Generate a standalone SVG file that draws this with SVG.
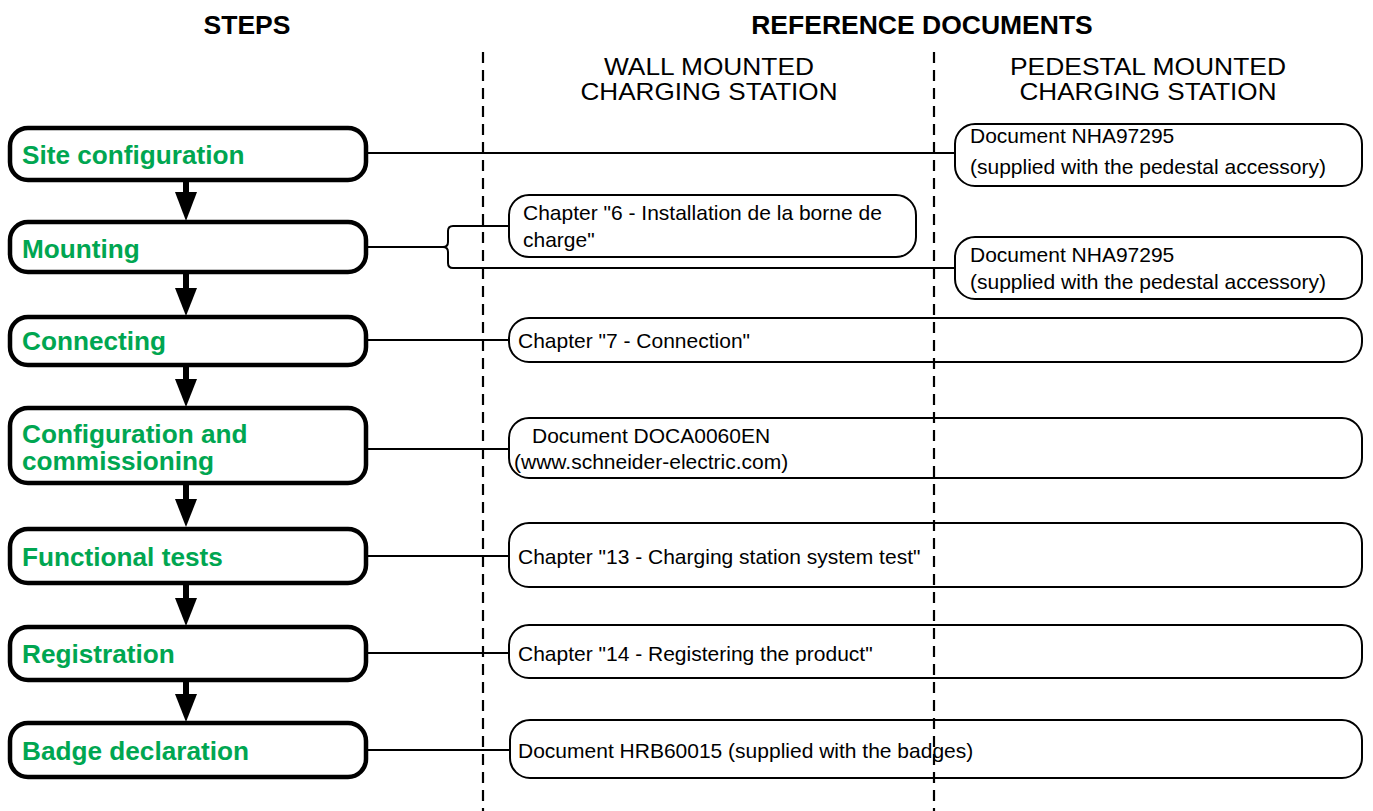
<svg xmlns="http://www.w3.org/2000/svg" width="1373" height="811" viewBox="0 0 1373 811">
<defs>
<style>
.bg{fill:#fff}
.step rect{fill:#fff;stroke:#000;stroke-width:4.5}
.step text{font-family:"Liberation Sans",Arial,sans-serif;font-weight:bold;font-size:26.2px;fill:#00a651}
.doc rect{fill:none;stroke:#000;stroke-width:2}
.doc text{font-family:"Liberation Sans",Arial,sans-serif;font-size:21px;fill:#000}
.hdr{font-family:"Liberation Sans",Arial,sans-serif;font-weight:bold;font-size:26.5px;fill:#000;text-anchor:middle}
.col{font-family:"Liberation Sans",Arial,sans-serif;font-size:24px;fill:#000;text-anchor:middle}
.dash{stroke:#000;stroke-width:2.2;stroke-dasharray:11,7;fill:none}
.ln{stroke:#000;stroke-width:2;fill:none}
.flow{fill:#000}
</style>
</defs>
<rect class="bg" x="0" y="0" width="1373" height="811"/>

<g id="headers">
<text class="hdr" x="247" y="34">STEPS</text>
<text class="hdr" x="922" y="34">REFERENCE DOCUMENTS</text>
<text class="col" x="709" y="75" textLength="210" lengthAdjust="spacingAndGlyphs">WALL MOUNTED</text>
<text class="col" x="709" y="100" textLength="257" lengthAdjust="spacingAndGlyphs">CHARGING STATION</text>
<text class="col" x="1148" y="75" textLength="276" lengthAdjust="spacingAndGlyphs">PEDESTAL MOUNTED</text>
<text class="col" x="1148" y="100" textLength="257" lengthAdjust="spacingAndGlyphs">CHARGING STATION</text>
</g>

<g id="columns">
<line class="dash" x1="483" y1="52" x2="483" y2="811"/>
<line class="dash" x1="934" y1="52" x2="934" y2="811"/>
</g>

<g id="connectors">
<line class="ln" x1="367" y1="153" x2="955" y2="153"/>
<line class="ln" x1="367" y1="247" x2="443" y2="247"/>
<path class="ln" d="M509,226 H453 Q448,226 448,231 V242 Q448,247 443,247 Q448,247 448,252 V263 Q448,268 453,268 H955"/>
<line class="ln" x1="367" y1="340" x2="509" y2="340"/>
<line class="ln" x1="367" y1="449" x2="509" y2="449"/>
<line class="ln" x1="367" y1="556" x2="509" y2="556"/>
<line class="ln" x1="367" y1="653" x2="509" y2="653"/>
<line class="ln" x1="367" y1="750" x2="510" y2="750"/>
<g class="flow">
<rect x="183" y="181" width="6" height="12"/><polygon points="175,192 197,192 186,221"/>
<rect x="183" y="273" width="6" height="16"/><polygon points="175,288 197,288 186,316"/>
<rect x="183" y="366" width="6" height="14"/><polygon points="175,379 197,379 186,407"/>
<rect x="183" y="484" width="6" height="16"/><polygon points="175,499 197,499 186,527"/>
<rect x="183" y="584" width="6" height="15"/><polygon points="175,598 197,598 186,626"/>
<rect x="183" y="681" width="6" height="14"/><polygon points="175,694 197,694 186,722"/>
</g>
</g>

<g id="step-site" class="step">
<rect x="10" y="128" width="356" height="52" rx="18"/>
<text x="22" y="164">Site configuration</text>
</g>
<g id="step-mounting" class="step">
<rect x="10" y="222" width="356" height="50" rx="18"/>
<text x="22" y="258">Mounting</text>
</g>
<g id="step-connecting" class="step">
<rect x="10" y="317" width="356" height="48" rx="18"/>
<text x="22" y="350">Connecting</text>
</g>
<g id="step-config" class="step">
<rect x="10" y="408" width="356" height="75" rx="18"/>
<text x="22" y="443">Configuration and</text>
<text x="22" y="470">commissioning</text>
</g>
<g id="step-functional" class="step">
<rect x="10" y="529" width="356" height="54" rx="18"/>
<text x="22" y="566">Functional tests</text>
</g>
<g id="step-registration" class="step">
<rect x="10" y="627" width="356" height="53" rx="18"/>
<text x="22" y="663">Registration</text>
</g>
<g id="step-badge" class="step">
<rect x="10" y="723" width="356" height="54" rx="18"/>
<text x="22" y="760">Badge declaration</text>
</g>

<g id="doc-site-pedestal" class="doc">
<rect x="955" y="124" width="407" height="62" rx="20"/>
<text x="970" y="143">Document NHA97295</text>
<text x="970" y="174">(supplied with the pedestal accessory)</text>
</g>
<g id="doc-mount-wall" class="doc">
<rect x="509" y="195" width="407" height="62" rx="20"/>
<text x="523" y="220">Chapter "6 - Installation de la borne de</text>
<text x="523" y="247">charge"</text>
</g>
<g id="doc-mount-pedestal" class="doc">
<rect x="955" y="237" width="407" height="62" rx="20"/>
<text x="970" y="262">Document NHA97295</text>
<text x="970" y="289">(supplied with the pedestal accessory)</text>
</g>
<g id="doc-connecting" class="doc">
<rect x="509" y="318" width="853" height="44" rx="20"/>
<text x="518" y="348">Chapter "7 - Connection"</text>
</g>
<g id="doc-config" class="doc">
<rect x="509" y="418" width="853" height="60" rx="20"/>
<text x="532" y="443">Document DOCA0060EN</text>
<text x="514" y="469">(www.schneider-electric.com)</text>
</g>
<g id="doc-functional" class="doc">
<rect x="509" y="523" width="853" height="64" rx="20"/>
<text x="518" y="564">Chapter "13 - Charging station system test"</text>
</g>
<g id="doc-registration" class="doc">
<rect x="509" y="625" width="853" height="53" rx="20"/>
<text x="518" y="661">Chapter "14 - Registering the product"</text>
</g>
<g id="doc-badge" class="doc">
<rect x="510" y="720" width="852" height="58" rx="20"/>
<text x="518" y="758">Document HRB60015 (supplied with the badges)</text>
</g>
</svg>
